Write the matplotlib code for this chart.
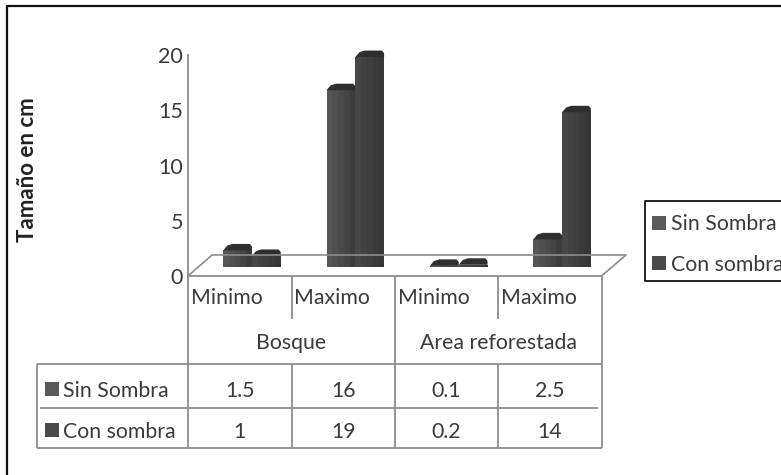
import matplotlib
matplotlib.use("Agg")
import matplotlib.pyplot as plt
from matplotlib.lines import Line2D
from matplotlib.patches import Polygon, Rectangle
from matplotlib.transforms import Affine2D

groups = ["Bosque", "Area reforestada"]
categories = ["Minimo", "Maximo", "Minimo", "Maximo"]
series_names = ["Sin Sombra", "Con sombra"]
sin_sombra = [1.5, 16, 0.1, 2.5]
con_sombra = [1, 19, 0.2, 14]
table_sin = ["1.5", "16", "0.1", "2.5"]
table_con = ["1", "19", "0.2", "14"]
y_ticks = [0, 5, 10, 15, 20]

W, H = 781, 475
plt.rcParams["font.family"] = ["Lato", "DejaVu Sans"]
FS = 15.3
TXT = "#3a3a3a"
GRID = "#8c8c8c"

fig = plt.figure(figsize=(W / 100, H / 100), dpi=100, facecolor="white")
px = Affine2D().scale(1, -1).translate(0, H)


def pline(xs, ys, color=GRID, lw=1.3):
    fig.add_artist(Line2D(xs, ys, color=color, lw=lw, transform=px, solid_capstyle="butt"))


def ptext(x, y, s, ha="center", **kw):
    kw.setdefault("fontsize", FS)
    kw.setdefault("color", TXT)
    fig.text(x, y, s, ha=ha, va="center", transform=px, **kw)


def swatch(x, y, c, s=14):
    fig.add_artist(Rectangle((x, y), s, s, facecolor=c, edgecolor="none", transform=px))


# plot axes: left/right = table columns, bottom/top = front floor edge and axis top
L, R, B, T = 188, 601.5, 276, 55
ax = fig.add_axes([L / W, 1 - B / H, (R - L) / W, (B - T) / H])
ax.set_xlim(0, 4)
ax.set_ylim(0, 20)
ax.patch.set_alpha(0)
for s in ["top", "right"]:
    ax.spines[s].set_visible(False)
for s in ["left", "bottom"]:
    ax.spines[s].set_color(GRID)
    ax.spines[s].set_linewidth(1.3)
ax.set_xticks([])
ax.set_yticks(y_ticks)
ax.tick_params(axis="y", length=0, pad=3.5, labelsize=15.5, labelcolor=TXT)
ax.set_ylabel("Tamaño en cm", fontsize=16, fontweight="bold", color="#222222", labelpad=0)
ax.yaxis.set_label_coords((38 - L) / (R - L), 0.48)

# floor in perspective, drawn under the bars
pline([188, 212, 626, 601.5], [276, 255, 255, 276], lw=1.2)

# pseudo-3D bars
BASE = 9 / 11.05          # floor lift of the bar base, value units
CAP = 6.5 / 11.05         # height of the top cap
BW = 28.8 / 103.4         # bar width in category units
SHIFT = 0.1185            # group shift to the floor's depth
shades = [["#565656", "#505050", "#4a4a4a", "#444444", "#3d3d3d"],
          ["#474747", "#424242", "#3e3e3e", "#3a3a3a", "#363636"]]

for si, values in enumerate([sin_sombra, con_sombra]):
    for i, v in enumerate(values):
        x0 = i + 0.5 + SHIFT - BW + si * BW
        n = len(shades[si])
        for k, c in enumerate(shades[si]):
            ax.bar(x0 + k * BW / n, v, BW / n + 0.001, bottom=BASE, align="edge", color=c,
                   linewidth=0, zorder=3 + si, clip_on=False)
        top = BASE + v
        ax.add_patch(Polygon([(x0, top), (x0 + 0.04, top + CAP * 0.75), (x0 + 0.09, top + CAP),
                              (x0 + BW - 0.02, top + CAP), (x0 + BW, top + CAP * 0.6), (x0 + BW, top)],
                             closed=True, facecolor="#2f2f2f", edgecolor="none", zorder=3 + si, clip_on=False))

# category / group header cells
cols = [188, 291.5, 395, 498, 601.5]
pline([cols[1], cols[1]], [276, 319])
pline([cols[3], cols[3]], [276, 319])
pline([cols[2], cols[2]], [276, 364])
pline([cols[4], cols[4]], [276, 447.5])
pline([188, 188], [276, 447.5])
for c, name in zip(cols[:4], categories):
    ptext(c + 3, 298, name, ha="left")
ptext((cols[0] + cols[2]) / 2, 343, groups[0])
ptext((cols[2] + cols[4]) / 2, 343, groups[1])

# data table
pline([37, 601.5], [364, 364])
pline([40, 598], [408, 408])
pline([37, 601.5], [447.5, 447.5])
pline([37, 37], [364, 447.5])
for c in cols[1:4]:
    pline([c, c], [364, 447.5])
rows = [(391, table_sin, series_names[0], "#5a5a5a"), (432, table_con, series_names[1], "#4a4a4a")]
for y, vals, name, col in rows:
    swatch(45, y - 9, col)
    ptext(63, y, name, ha="left")
    for i, s in enumerate(vals):
        ptext((cols[i] + cols[i + 1]) / 2, y, s)

# legend, cut off by the right picture edge
pline([790, 644.5, 644.5, 790], [201, 201, 281, 281], color="#111111", lw=1.3)
swatch(652, 216, "#5a5a5a")
swatch(652, 256, "#4a4a4a")
ptext(671, 224, series_names[0], ha="left")
ptext(671, 265, series_names[1], ha="left")

# chart frame
pline([6.5, 6.5], [5.5, 475], color="#111111", lw=1.6)
pline([6, 781], [5.5, 5.5], color="#111111", lw=1.6)

fig.savefig("out.png", dpi=100, facecolor="white")
